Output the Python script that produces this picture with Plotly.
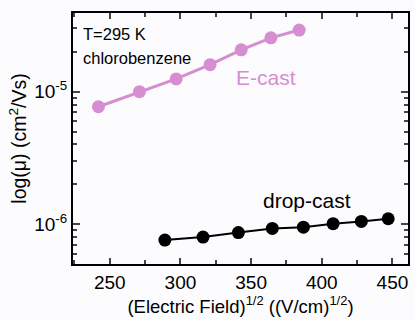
import plotly.graph_objects as go
import numpy as np

# E-cast data
ecast_x = [242, 271, 297, 321, 343, 364, 384]
ecast_y = [7.7e-6, 1.0e-5, 1.25e-5, 1.6e-5, 2.07e-5, 2.55e-5, 2.92e-5]

# drop-cast data
drop_x = [289, 316, 341, 365, 387, 408, 428, 447]
drop_y = [7.6e-7, 8.0e-7, 8.65e-7, 9.3e-7, 9.5e-7, 1.01e-6, 1.05e-6, 1.10e-6]

x_ticks = [250, 300, 350, 400, 450]
y_ticks = [1e-6, 1e-5]
y_ticktext = ["10<sup>-6</sup>", "10<sup>-5</sup>"]

pink = "#d68ed0"
font = "Liberation Sans, Arial, sans-serif"

minor_y = [m * 10.0 ** e for e in (-7, -6, -5) for m in range(2, 10)]

fig = go.Figure()
fig.add_trace(go.Scatter(x=ecast_x, y=ecast_y, mode="lines+markers",
                         line=dict(color=pink, width=3),
                         marker=dict(color=pink, size=13)))
fig.add_trace(go.Scatter(x=drop_x, y=drop_y, mode="lines+markers",
                         line=dict(color="black", width=2),
                         marker=dict(color="black", size=13)))

fig.update_layout(
    width=415, height=320,
    margin=dict(l=73, r=5, t=13, b=56),
    paper_bgcolor="#fcfcfe", plot_bgcolor="#fcfcfe",
    showlegend=False,
    font=dict(family=font, color="black", size=18),
    xaxis=dict(range=[224, 461], tickvals=x_ticks, ticks="inside", ticklen=6,
               tickwidth=1.5, showline=True, linewidth=2, linecolor="black",
               mirror="ticks", showgrid=False, zeroline=False,
               tickfont=dict(size=19),
               minor=dict(ticks="inside", ticklen=4, tickwidth=1.5, dtick=25, tick0=0),
               title=dict(text="(Electric Field)<sup>1/2</sup> ((V/cm)<sup>1/2</sup>)",
                          font=dict(size=18.5), standoff=6)),
    yaxis=dict(type="log", range=[-6.30, -4.406], tickvals=y_ticks, ticktext=y_ticktext,
               ticks="inside", ticklen=7, tickwidth=1.5, showline=True, linewidth=2,
               linecolor="black", mirror="ticks", showgrid=False, zeroline=False,
               tickfont=dict(size=19),
               minor=dict(ticks="inside", ticklen=4, tickwidth=1.5, tickvals=minor_y),
               title=dict(text="log(μ) (cm<sup>2</sup>/Vs)", font=dict(size=19.5), standoff=2)),
    annotations=[
        dict(x=0.025, y=0.915, xref="paper", yref="paper", text="T=295 K",
             showarrow=False, xanchor="left", yanchor="middle", font=dict(size=16.5)),
        dict(x=0.025, y=0.82, xref="paper", yref="paper", text="chlorobenzene",
             showarrow=False, xanchor="left", yanchor="middle", font=dict(size=16.5)),
        dict(x=0.48, y=0.745, xref="paper", yref="paper", text="E-cast",
             showarrow=False, xanchor="left", yanchor="middle", font=dict(size=21, color=pink)),
        dict(x=0.56, y=0.251, xref="paper", yref="paper", text="drop-cast",
             showarrow=False, xanchor="left", yanchor="middle", font=dict(size=21)),
    ],
)

fig.write_html("out.html")
